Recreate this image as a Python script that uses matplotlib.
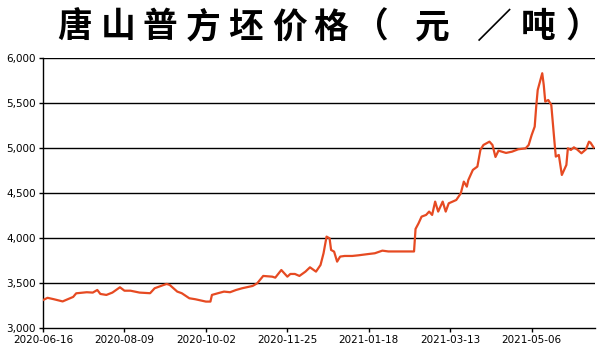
import matplotlib
matplotlib.use("Agg")
import matplotlib.pyplot as plt
import numpy as np
import pandas as pd

title = "唐山普方坯价格（元／吨）"

dates = [
    "2020-06-16", "2020-06-19", "2020-06-23", "2020-06-29", "2020-07-06", "2020-07-08",
    "2020-07-15", "2020-07-19", "2020-07-22", "2020-07-24", "2020-07-28", "2020-08-01",
    "2020-08-06", "2020-08-09", "2020-08-13", "2020-08-19", "2020-08-26", "2020-08-29",
    "2020-09-04", "2020-09-06", "2020-09-08", "2020-09-13", "2020-09-16", "2020-09-21",
    "2020-09-25", "2020-10-02", "2020-10-05", "2020-10-06", "2020-10-10", "2020-10-14",
    "2020-10-18", "2020-10-22", "2020-10-26", "2020-11-02", "2020-11-05", "2020-11-09",
    "2020-11-15", "2020-11-17", "2020-11-21", "2020-11-25", "2020-11-27", "2020-11-30",
    "2020-12-03", "2020-12-07", "2020-12-10", "2020-12-14", "2020-12-17", "2020-12-19",
    "2020-12-21", "2020-12-23", "2020-12-24", "2020-12-26", "2020-12-28", "2020-12-30",
    "2021-01-02", "2021-01-07", "2021-01-11", "2021-01-18", "2021-01-22", "2021-01-27",
    "2021-01-31", "2021-02-17", "2021-02-18", "2021-02-20", "2021-02-22", "2021-02-25",
    "2021-02-27", "2021-03-01", "2021-03-03", "2021-03-05", "2021-03-08", "2021-03-10",
    "2021-03-12", "2021-03-17", "2021-03-20", "2021-03-22", "2021-03-24", "2021-03-25",
    "2021-03-28", "2021-03-31", "2021-04-02", "2021-04-04", "2021-04-08", "2021-04-10",
    "2021-04-12", "2021-04-14", "2021-04-19", "2021-04-23", "2021-04-27", "2021-05-02",
    "2021-05-04", "2021-05-06", "2021-05-08", "2021-05-09", "2021-05-10", "2021-05-13",
    "2021-05-14", "2021-05-15", "2021-05-17", "2021-05-19", "2021-05-21", "2021-05-22",
    "2021-05-24", "2021-05-26", "2021-05-29", "2021-05-30", "2021-06-01", "2021-06-03",
    "2021-06-05", "2021-06-08", "2021-06-11", "2021-06-13", "2021-06-14", "2021-06-16",
]

prices = [
    3310, 3335, 3320, 3295, 3345, 3385,
    3397, 3393, 3422, 3378, 3367, 3393,
    3452, 3414, 3414, 3393, 3386, 3441,
    3478, 3489, 3478, 3404, 3386, 3330,
    3319, 3293, 3293, 3367, 3386, 3404,
    3397, 3422, 3441, 3467, 3496, 3578,
    3570, 3559, 3644, 3570, 3600, 3600,
    3578, 3626, 3674, 3626, 3700, 3830,
    4015, 3996, 3867, 3848, 3737, 3793,
    3800, 3800, 3807, 3822, 3830, 3859,
    3850, 3850, 4100, 4163, 4237, 4256,
    4293, 4256, 4404, 4293, 4404, 4293,
    4385, 4422, 4496, 4626, 4570, 4644,
    4756, 4793, 4978, 5033, 5070, 5033,
    4900, 4970, 4945, 4959, 4985, 4996,
    5033, 5144, 5237, 5459, 5644, 5830,
    5700, 5515, 5533, 5478, 5089, 4904,
    4922, 4700, 4811, 4996, 4978, 5007,
    4985, 4941, 4985, 5070, 5059, 5007,
]

tick_dates = ["2020-06-16", "2020-08-09", "2020-10-02", "2020-11-25",
              "2021-01-18", "2021-03-13", "2021-05-06"]
y_ticks = [3000, 3500, 4000, 4500, 5000, 5500, 6000]

x = pd.to_datetime(dates)
xt = pd.to_datetime(tick_dates)

fig = plt.figure(figsize=(6, 3.6), dpi=100)
ax = fig.add_axes([0.0717, 0.089, 0.92, 0.750])

for v in y_ticks[1:]:
    ax.axhline(v, color="black", linewidth=1.0, zorder=1)

ax.plot(x, prices, color="#E64A22", linewidth=1.6, zorder=3)

ax.set_ylim(3000, 6000)
ax.set_xlim(pd.Timestamp("2020-06-16"), pd.Timestamp("2021-06-17"))
ax.set_yticks(y_ticks)
ax.set_yticklabels([f"{v:,}" for v in y_ticks], fontsize=7.5, family="DejaVu Sans")
ax.set_xticks(xt)
ax.set_xticklabels(tick_dates, fontsize=7.5, family="DejaVu Sans")
ax.tick_params(axis="both", length=3, width=1, color="black", pad=2)

for s in ["top", "right"]:
    ax.spines[s].set_visible(False)
for s in ["left", "bottom"]:
    ax.spines[s].set_color("black")
    ax.spines[s].set_linewidth(1.0)

# title drawn character by character to reproduce the wide letter spacing
title_x = [75, 118, 160, 203, 246, 290, 331, 371, 432, 493, 538, 583]
for ch, px in zip(title, title_x):
    fig.text(px / 600, 0.925, ch, ha="center", va="center", fontsize=25,
             fontweight="bold", family=["Noto Sans CJK SC", "DejaVu Sans"])

fig.savefig("out.png", dpi=100)
